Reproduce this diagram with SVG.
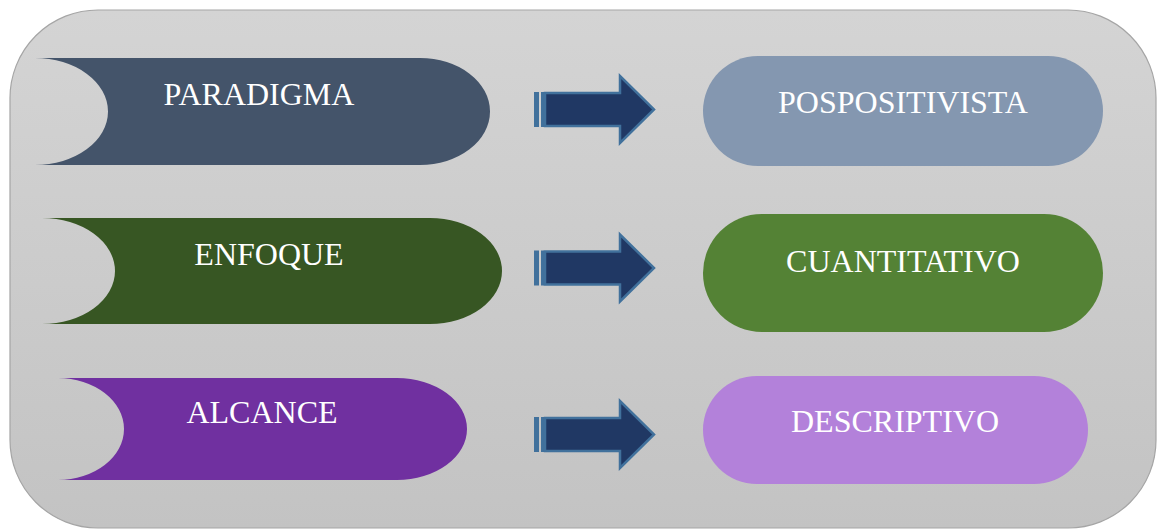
<svg xmlns="http://www.w3.org/2000/svg" width="1161" height="529" viewBox="0 0 1161 529">
  <defs>
    <linearGradient id="panelFill" x1="0" y1="0" x2="0" y2="1">
      <stop offset="0" stop-color="#d4d4d4"/>
      <stop offset="1" stop-color="#c3c3c3"/>
    </linearGradient>
    <style>
      .label { font-family: "Liberation Serif", "Times New Roman", serif; font-size: 32px; fill: #ffffff; text-anchor: middle; }
      .arrow-body { fill: #203864; stroke: #41719c; stroke-width: 2.5; stroke-linejoin: miter; }
      .arrow-strip { fill: #41719c; }
    </style>
    <!-- striped block arrow, drawn with its left edge at x=0 and its axis at y=0 -->
    <g id="blockArrow">
      <rect class="arrow-strip" x="0" y="-17.5" width="5" height="35"/>
      <rect class="arrow-strip" x="7" y="-17.5" width="3" height="35"/>
      <path class="arrow-body" d="M11,-16.5 H86 V-33.5 L120,0 L86,33.5 V16.5 H11 Z"/>
    </g>
  </defs>

  <!-- panel -->
  <rect x="10" y="10" width="1146" height="518" rx="88" ry="88" fill="url(#panelFill)" stroke="#a5a5a5" stroke-width="1.2"/>

  <!-- connectors -->
  <g id="connectors">
    <use href="#blockArrow" x="534" y="109.5"/>
    <use href="#blockArrow" x="534" y="268"/>
    <use href="#blockArrow" x="534" y="434.5"/>
  </g>

  <!-- left column -->
  <g id="paradigma">
    <path d="M35,58 H420 A70,53.5 0 0 1 420,165 H35 A73,53.5 0 0 0 35,58 Z" fill="#44546a"/>
    <text class="label" x="259" y="105">PARADIGMA</text>
  </g>
  <g id="enfoque">
    <path d="M42,218 H430 A72,53 0 0 1 430,324 H42 A73,53 0 0 0 42,218 Z" fill="#375623"/>
    <text class="label" x="269" y="265">ENFOQUE</text>
  </g>
  <g id="alcance">
    <path d="M58,378 H397 A70,51 0 0 1 397,480 H58 A66,51 0 0 0 58,378 Z" fill="#7030a0"/>
    <text class="label" x="262" y="423">ALCANCE</text>
  </g>

  <!-- right column -->
  <g id="pospositivista">
    <rect x="703" y="56" width="400" height="110" rx="55" ry="55" fill="#8497b0"/>
    <text class="label" x="903" y="113">POSPOSITIVISTA</text>
  </g>
  <g id="cuantitativo">
    <rect x="703" y="214" width="400" height="118" rx="59" ry="59" fill="#548235"/>
    <text class="label" x="903" y="272">CUANTITATIVO</text>
  </g>
  <g id="descriptivo">
    <rect x="703" y="376" width="385" height="108" rx="54" ry="54" fill="#b381da"/>
    <text class="label" x="895" y="432">DESCRIPTIVO</text>
  </g>
</svg>
